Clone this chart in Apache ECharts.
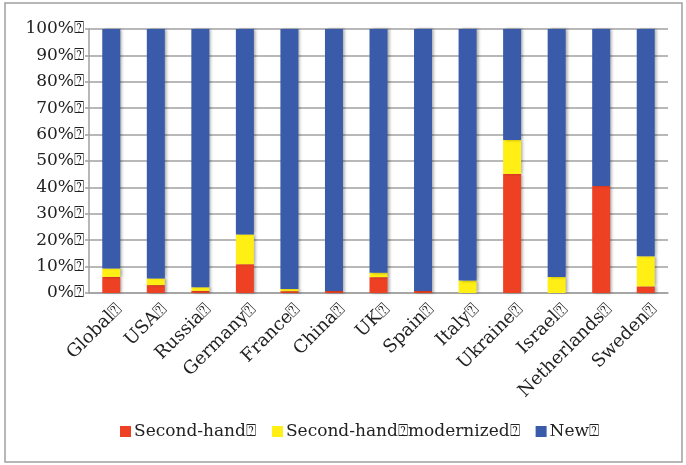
<!DOCTYPE html>
<html>
<head>
<meta charset="utf-8">
<script src="https://cdn.jsdelivr.net/npm/echarts@6/dist/echarts.min.js"></script>
<style>
html,body{margin:0;padding:0;background:#fff;}
#c{width:686px;height:465px;}
</style>
</head>
<body>
<div id="c"></div>
<script>
var categories = ['Global','USA','Russia','Germany','France','China','UK','Spain','Italy','Ukraine','Israel','Netherlands','Sweden'];
var secondHand = [6.1, 3.0, 0.8, 10.9, 0.7, 0.8, 6.0, 0.8, 0, 45.1, 0, 40.5, 2.5];
var secondHandModernized = [3.2, 2.5, 1.4, 11.3, 0.8, 0, 1.7, 0, 4.7, 12.9, 6.1, 0, 11.4];
var newShips = categories.map(function(c, i){ return +(100 - secondHand[i] - secondHandModernized[i]).toFixed(1); });
var seriesNames = ['Second-hand\u2370', 'Second-hand\u2370modernized\u2370', 'New\u2370'];
var yTicks = [0,10,20,30,40,50,60,70,80,90,100];

var FONT = 'DejaVu Serif';
var chart = echarts.init(document.getElementById('c'), null, {renderer:'canvas'});
var shadow = {shadowColor:'rgba(0,0,0,0.35)', shadowBlur:3, shadowOffsetX:2, shadowOffsetY:0};
function mk(name, data, color){
  return {
    name: name, type:'bar', stack:'total', data:data, barWidth:18,
    itemStyle: Object.assign({color:color}, shadow),
    emphasis:{disabled:true}
  };
}
chart.setOption({
  animation:false,
  graphic:[{type:'rect', shape:{x:5, y:3, width:677, height:459}, style:{fill:'none', stroke:'#a0a0a0', lineWidth:1.5}, z:-1}],
  grid:{left:89, right:18, top:29, bottom:172},
  legend:{
    bottom:20, left:115, itemWidth:11, itemHeight:11, itemGap:16, icon:'rect',
    textStyle:{fontFamily:FONT, fontSize:17, color:'#222', padding:[0,0,0,-2]},
    data: seriesNames
  },
  xAxis:{
    type:'category', data:categories.map(function(c){return c + '\u2370';}),
    axisLine:{lineStyle:{color:'#a0a0a0', width:1.5}},
    axisTick:{length:6, lineStyle:{color:'#a0a0a0', width:1.5}},
    axisLabel:{rotate:45, fontFamily:FONT, fontSize:18, color:'#222', margin:22, interval:0, padding:[0,-12,0,0]}
  },
  yAxis:{
    type:'value', min:0, max:100, interval:10,
    axisLine:{show:true, lineStyle:{color:'#a0a0a0', width:1.5}},
    axisTick:{show:true, length:4, lineStyle:{color:'#a0a0a0', width:1.5}},
    splitLine:{lineStyle:{color:'#a0a0a0', width:1.5}},
    axisLabel:{formatter:'{value}%\u2370', fontFamily:FONT, fontSize:17, color:'#222', margin:5}
  },
  series:[
    mk(seriesNames[0], secondHand, '#EE4123'),
    mk(seriesNames[1], secondHandModernized, '#FFEF14'),
    mk(seriesNames[2], newShips, '#3A5BAA')
  ]
});
</script>
</body>
</html>
